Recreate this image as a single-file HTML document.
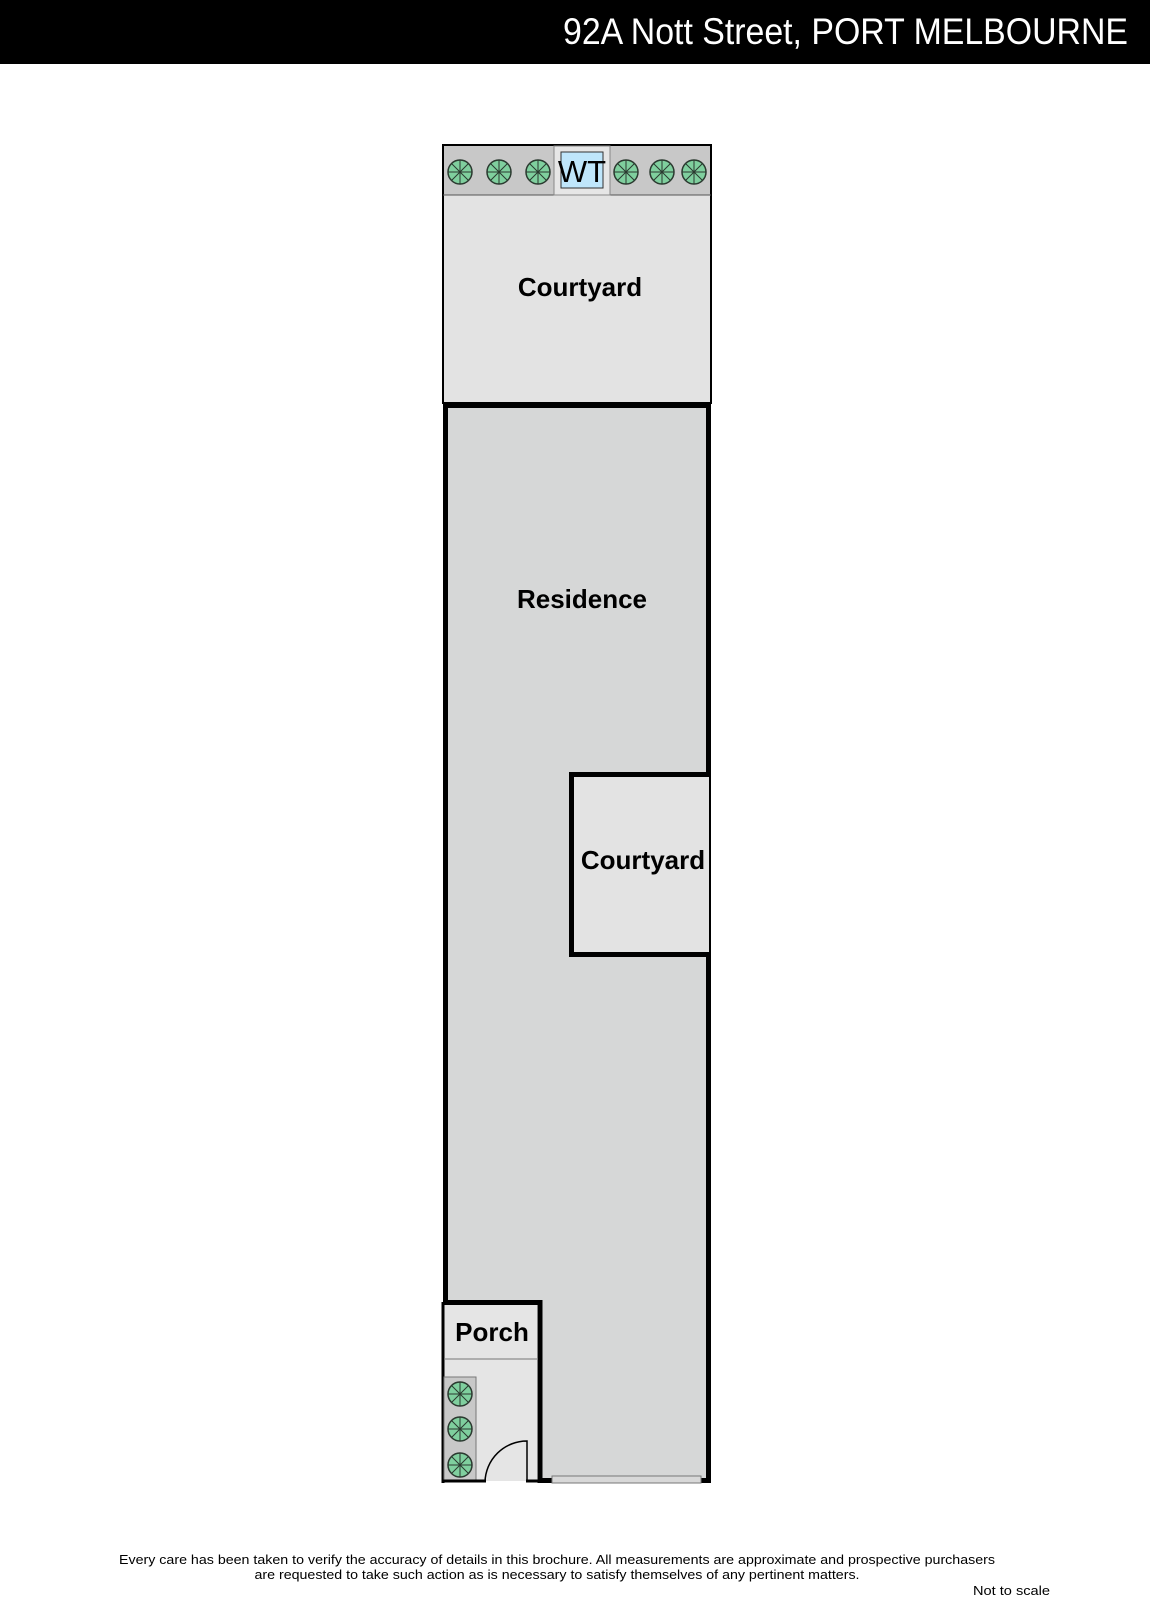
<!DOCTYPE html>
<html><head><meta charset="utf-8"><style>
html,body{margin:0;padding:0;background:#fff;}
body{width:1150px;height:1600px;overflow:hidden;position:relative;}
</style></head><body>
<svg width="1150" height="1600" viewBox="0 0 1150 1600" xmlns="http://www.w3.org/2000/svg" style="position:absolute;left:0;top:0">
<defs>
<g id="pl">
<circle r="12" fill="#7fcf9e" stroke="#2b3a30" stroke-width="1.5"/>
<path d="M0 0L0-12M0 0L8.5-8.5M0 0L12 0M0 0L8.5 8.5M0 0L0 12M0 0L-8.5 8.5M0 0L-12 0M0 0L-8.5-8.5" stroke="#2b3a30" stroke-width="1"/>
</g>
</defs>
<rect x="0" y="0" width="1150" height="64" fill="#000"/>
<text x="1128" y="44" text-anchor="end" fill="#fff" font-family="Liberation Sans, sans-serif" font-size="37" textLength="565" lengthAdjust="spacingAndGlyphs">92A Nott Street, PORT MELBOURNE</text>

<!-- top courtyard -->
<rect x="443" y="145" width="268" height="258" fill="#e3e3e3" stroke="#000" stroke-width="2"/>
<rect x="444" y="146" width="266" height="49" fill="#c8c8c8"/>
<line x1="443" y1="195" x2="711" y2="195" stroke="#555" stroke-width="1"/>
<rect x="554" y="146" width="56" height="49" fill="#e6e6e6" stroke="#888" stroke-width="1"/>
<rect x="561" y="152" width="42" height="36" fill="#bfe6fb" stroke="#333" stroke-width="1"/>
<text x="582" y="182" text-anchor="middle" font-family="Liberation Sans, sans-serif" font-size="31" fill="#000">WT</text>
<use href="#pl" x="460" y="172"/><use href="#pl" x="499" y="172"/><use href="#pl" x="538" y="172"/>
<use href="#pl" x="626" y="172"/><use href="#pl" x="662" y="172"/><use href="#pl" x="694" y="172"/>
<text x="580" y="296" text-anchor="middle" font-family="Liberation Sans, sans-serif" font-weight="bold" font-size="26">Courtyard</text>

<!-- residence -->
<path d="M445.5 405.5H708.5V774.5H571.5V954.5H708.5V1480.5H540V1302.5H445.5Z" fill="#d6d7d7" stroke="#000" stroke-width="5"/>
<!-- courtyard 2 -->
<rect x="574" y="777" width="136" height="175" fill="#e3e3e3"/>
<line x1="710" y1="774" x2="710" y2="955" stroke="#000" stroke-width="2"/>
<text x="643" y="869" text-anchor="middle" font-family="Liberation Sans, sans-serif" font-weight="bold" font-size="26">Courtyard</text>
<text x="582" y="608" text-anchor="middle" font-family="Liberation Sans, sans-serif" font-weight="bold" font-size="26">Residence</text>

<!-- porch -->
<rect x="444" y="1305" width="93" height="176" fill="#e5e5e5"/>
<line x1="443" y1="1302" x2="443" y2="1483" stroke="#000" stroke-width="3"/>
<line x1="444" y1="1359" x2="537" y2="1359" stroke="#777" stroke-width="1"/>
<rect x="444" y="1377" width="32" height="104" fill="#c8c8c8" stroke="#777" stroke-width="1"/>
<use href="#pl" x="460" y="1394"/><use href="#pl" x="460" y="1429"/><use href="#pl" x="460" y="1465"/>
<path d="M527 1482V1441A42 42 0 0 0 485 1482" fill="none" stroke="#000" stroke-width="1.5"/>
<line x1="443" y1="1481" x2="486" y2="1481" stroke="#000" stroke-width="3"/>
<line x1="526" y1="1481" x2="540" y2="1481" stroke="#000" stroke-width="3"/>
<text x="492" y="1341" text-anchor="middle" font-family="Liberation Sans, sans-serif" font-weight="bold" font-size="26">Porch</text>
<!-- window -->
<rect x="552" y="1476" width="149" height="7" fill="#d8d8d8" stroke="#777" stroke-width="1"/>

<g font-family="Liberation Sans, sans-serif" font-size="13" fill="#000">
<text x="557" y="1564" text-anchor="middle" textLength="876" lengthAdjust="spacingAndGlyphs">Every care has been taken to verify the accuracy of details in this brochure.  All measurements are approximate and prospective purchasers</text>
<text x="557" y="1579" text-anchor="middle" textLength="605" lengthAdjust="spacingAndGlyphs">are requested to take such action as is necessary to satisfy themselves of any pertinent matters.</text>
<text x="1050" y="1595" text-anchor="end" textLength="77" lengthAdjust="spacingAndGlyphs">Not to scale</text>
</g>
</svg>
</body></html>
